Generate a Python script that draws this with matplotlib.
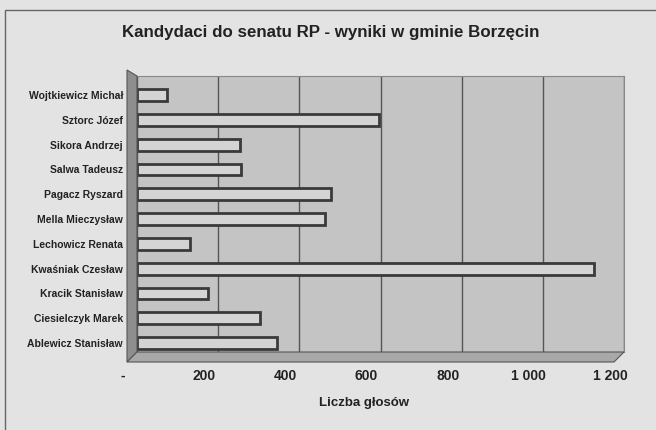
import matplotlib
matplotlib.use('Agg')
import matplotlib.pyplot as plt
import matplotlib.transforms as mtransforms
from matplotlib.patches import Polygon, Rectangle
from matplotlib.ticker import FuncFormatter

# Kandydaci do senatu - wyniki w gminie Borzęcin
kandydaci = ['Ablewicz Stanisław', 'Ciesielczyk Marek', 'Kracik Stanisław',
             'Kwaśniak Czesław', 'Lechowicz Renata', 'Mella Mieczysław',
             'Pagacz Ryszard', 'Salwa Tadeusz', 'Sikora Andrzej',
             'Sztorc Józef', 'Wojtkiewicz Michał']
glosy = [346, 302, 176, 1127, 130, 463, 478, 256, 253, 596, 74]
ticks = [0, 200, 400, 600, 800, 1000, 1200]

plt.rcParams['font.family'] = ['Liberation Sans', 'DejaVu Sans']

W, H = 656, 430
fig = plt.figure(figsize=(6.56, 4.30), dpi=100, facecolor='#e3e3e3')
ax = fig.add_axes([137 / W, 1 - 352 / H, 487 / W, 276 / H])
ax.set_facecolor('#c4c4c4')

# ramka wykresu (widoczna u góry i z lewej)
fig.patches.append(Rectangle((5 / W, -0.1), 1.2, 1.1 - 10 / H, transform=fig.transFigure,
                             fill=False, edgecolor='#666666', linewidth=1))

# ściana boczna i podłoga (efekt 3D)
def px(x, y):
    return (x / W, 1 - y / H)

fig.patches.append(Polygon([px(127, 70), px(137, 76), px(137, 352), px(127, 362)],
                           closed=True, transform=fig.transFigure,
                           facecolor='#8e8e8e', edgecolor='#555555', linewidth=0.8))
fig.patches.append(Polygon([px(137, 352), px(624, 352), px(614, 362), px(127, 362)],
                           closed=True, transform=fig.transFigure,
                           facecolor='#a8a8a8', edgecolor='#555555', linewidth=0.8))

y = range(len(kandydaci))
ax.barh(y, glosy, height=0.48, color='#d4d4d4', edgecolor='#3a3a3a', linewidth=2, zorder=3)

ax.set_xlim(0, 1200)
ax.set_ylim(-0.36, len(kandydaci) - 0.23)
ax.set_xticks(ticks)
ax.xaxis.set_major_formatter(FuncFormatter(lambda v, p: '-' if v == 0 else f'{int(v):,}'.replace(',', ' ')))
ax.grid(axis='x', color='#555555', linewidth=1, zorder=1)
ax.set_yticks(list(y))
ax.set_yticklabels(kandydaci, fontsize=7.5, fontweight='bold', color='#222222')
ax.tick_params(axis='x', labelsize=10, length=0, pad=12, labelcolor='#222222')
ax.tick_params(axis='y', length=0, pad=10)
shift = mtransforms.ScaledTranslation(-14 / 100, 0, fig.dpi_scale_trans)
for lbl in ax.get_xticklabels():
    lbl.set_fontweight('bold')
    lbl.set_transform(lbl.get_transform() + shift)

for s in ['top', 'right']:
    ax.spines[s].set_color('#888888')
for s in ['left', 'bottom']:
    ax.spines[s].set_visible(False)

ax.set_xlabel('Liczba głosów', fontsize=9.5, fontweight='bold', color='#222222')
ax.xaxis.set_label_coords((364 - 137) / 487, -(403 - 352) / 276)
ax.xaxis.label.set_va('center')
fig.text(331 / W, 1 - 32 / H, 'Kandydaci do senatu RP - wyniki w gminie Borzęcin',
         ha='center', va='center', fontsize=12.2, fontweight='bold', color='#222222')

fig.savefig('out.png', dpi=100, facecolor=fig.get_facecolor())
